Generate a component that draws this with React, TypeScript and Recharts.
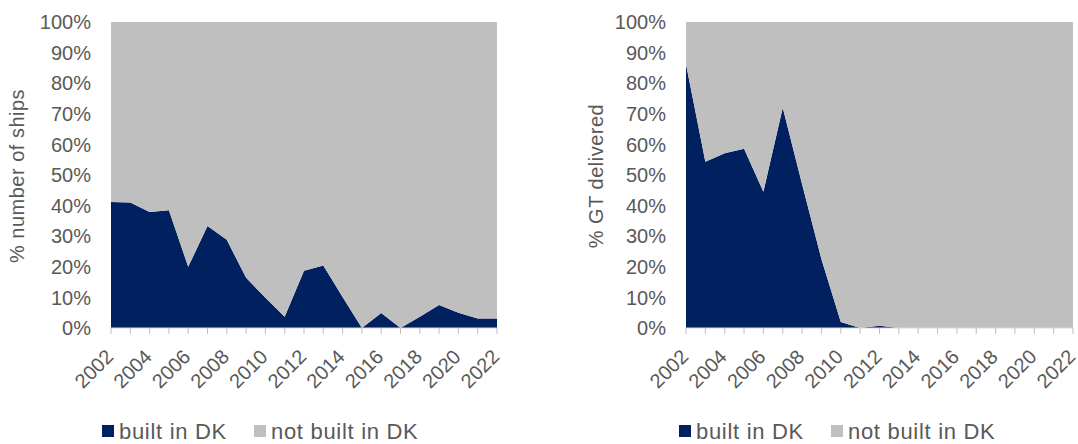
import React from 'react';
import { AreaChart, Area, XAxis, YAxis, Legend } from 'recharts';

const years = [2002, 2003, 2004, 2005, 2006, 2007, 2008, 2009, 2010, 2011, 2012, 2013, 2014, 2015, 2016, 2017, 2018, 2019, 2020, 2021, 2022];

// Left chart: share of number of ships (%)
const shipsBuilt = [41.2, 41.0, 37.9, 38.5, 20.0, 33.3, 28.8, 16.4, 9.9, 3.7, 18.7, 20.4, 10.1, 0, 4.9, 0, 3.7, 7.5, 5.0, 3.1, 3.1];
const shipsNotBuilt = [58.8, 59.0, 62.1, 61.5, 80.0, 66.7, 71.2, 83.6, 90.1, 96.3, 81.3, 79.6, 89.9, 100, 95.1, 100, 96.3, 92.5, 95.0, 96.9, 96.9];

// Right chart: share of GT delivered (%)
const gtBuilt = [86.2, 54.3, 57.1, 58.6, 44.5, 72.0, 47.0, 22.5, 2.0, 0, 0.7, 0, 0, 0, 0, 0, 0, 0, 0, 0, 0];
const gtNotBuilt = [13.8, 45.7, 42.9, 41.4, 55.5, 28.0, 53.0, 77.5, 98.0, 100, 99.3, 100, 100, 100, 100, 100, 100, 100, 100, 100, 100];

const yTicks = [0, 10, 20, 30, 40, 50, 60, 70, 80, 90, 100];
const seriesNames = ['built in DK', 'not built in DK'];
const leftTitle = '% number of ships';
const rightTitle = '% GT delivered';

const DARK = '#002060';
const GRAY = '#BFBFBF';
const TEXT = '#595959';
const FONT = '"Liberation Sans", Arial, sans-serif';

const shipsData = years.map((y, i) => ({ year: y, built: shipsBuilt[i], notBuilt: shipsNotBuilt[i] }));
const gtData = years.map((y, i) => ({ year: y, built: gtBuilt[i], notBuilt: gtNotBuilt[i] }));

const XTick = (props: any) => {
  const { x, y, payload } = props;
  if (payload.value % 2 !== 0) return <g />;
  const px = x + 3.5;
  const py = y + 22;
  return (
    <text
      x={px}
      y={py}
      transform={`rotate(-45 ${px} ${py})`}
      textAnchor="end"
      fontSize={20}
      fontFamily={FONT}
      fill={TEXT}
    >
      {payload.value}
    </text>
  );
};

const AxisTitle = (props: any) => {
  const { text, bx, cy } = props;
  return (
    <text
      x={bx}
      y={cy}
      transform={`rotate(-90 ${bx} ${cy})`}
      textAnchor="middle"
      fontSize={20}
      fontFamily={FONT}
      fill={TEXT}
      style={{ letterSpacing: 0.5 }}
    >
      {text}
    </text>
  );
};

const LegendContent = (props: any) => {
  const { payload } = props;
  const colors: Record<string, string> = { [seriesNames[0]]: DARK, [seriesNames[1]]: GRAY };
  return (
    <div style={{ display: 'flex', alignItems: 'center', fontFamily: FONT, fontSize: 22, color: TEXT, letterSpacing: 0.7, whiteSpace: 'nowrap' }}>
      {(payload || []).map((entry: any, i: number) => (
        <div key={i} style={{ display: 'flex', alignItems: 'center', marginRight: 27 }}>
          <span style={{ display: 'inline-block', width: 12, height: 12, background: colors[entry.value] || entry.color, marginRight: 5, position: 'relative', top: -1 }} />
          <span>{entry.value}</span>
        </div>
      ))}
    </div>
  );
};

const Panel = (props: any) => {
  const { data, yWidth, rightMargin, title, titleX, legendLeft } = props;
  return (
    <AreaChart width={539} height={444} data={data} margin={{ top: 22, right: rightMargin, bottom: 0, left: 0 }}>
      <XAxis
        dataKey="year"
        type="number"
        domain={[2002, 2022]}
        ticks={years}
        interval={0}
        height={116}
        tickSize={6}
        tickMargin={2}
        tick={<XTick />}
        axisLine={{ stroke: '#D9D9D9' }}
        tickLine={{ stroke: '#BFBFBF' }}
      />
      <YAxis
        type="number"
        domain={[0, 100]}
        ticks={yTicks}
        interval={0}
        width={yWidth}
        axisLine={false}
        tickLine={false}
        tickSize={6}
        tickMargin={14}
        tickFormatter={(v: number) => `${v}%`}
        tick={{ fontSize: 20, fill: TEXT, fontFamily: FONT }}
        label={<AxisTitle text={title} bx={titleX} cy={176} />}
      />
      <Area
        type="linear"
        dataKey="built"
        name={seriesNames[0]}
        stackId="1"
        fill={DARK}
        fillOpacity={1}
        stroke="none"
        isAnimationActive={false}
        dot={false}
        activeDot={false}
      />
      <Area
        type="linear"
        dataKey="notBuilt"
        name={seriesNames[1]}
        stackId="1"
        fill={GRAY}
        fillOpacity={1}
        stroke="none"
        isAnimationActive={false}
        dot={false}
        activeDot={false}
      />
      <Legend
        layout="horizontal"
        verticalAlign="middle"
        align="center"
        content={<LegendContent />}
        wrapperStyle={{ position: 'absolute', left: legendLeft, top: 419, width: 430, height: 26 }}
      />
    </AreaChart>
  );
};

export default function App() {
  return (
    <div style={{ position: 'absolute', left: 0, top: 0, width: 1078, height: 444, background: '#fff' }}>
      <div style={{ position: 'absolute', left: 0, top: 0 }}>
        <Panel data={shipsData} yWidth={111} rightMargin={42} title={leftTitle} titleX={24} legendLeft={102} />
      </div>
      <div style={{ position: 'absolute', left: 539, top: 0 }}>
        <Panel data={gtData} yWidth={147} rightMargin={5} title={rightTitle} titleX={64} legendLeft={140} />
      </div>
    </div>
  );
}
